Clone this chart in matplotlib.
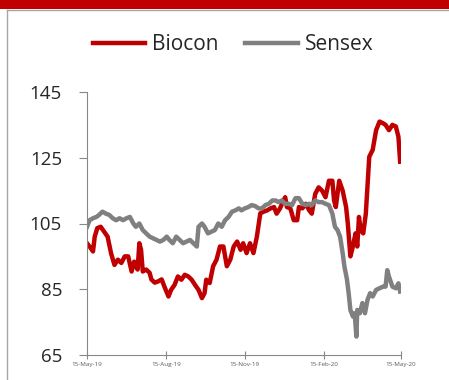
import numpy as np
import pandas as pd
import matplotlib
matplotlib.use("Agg")
import matplotlib.pyplot as plt
import matplotlib.dates as mdates
from matplotlib.patches import Rectangle
from matplotlib.lines import Line2D

plt.rcParams['font.family'] = ['Open Sans', 'DejaVu Sans']

start = pd.Timestamp("2019-05-15")
end = pd.Timestamp("2020-05-15")

# Biocon (rebased): day offset from 15-May-19 and value
biocon_days = [0, 3, 7, 9, 12, 16, 20, 24, 28, 32, 36, 40, 44, 48, 52, 55, 59, 61, 63, 65,
               69, 73, 75, 79, 83, 87, 91, 95, 98, 102, 106, 110, 114, 118, 122, 126, 130,
               134, 137, 139, 143, 147, 151, 155, 159, 163, 167, 171, 175, 179, 182, 186,
               190, 194, 198, 202, 206, 210, 214, 218, 221, 225, 229, 231, 233, 237, 241,
               245, 247, 251, 255, 259, 262, 266, 270, 274, 278, 282, 286, 288, 290, 294,
               298, 302, 304, 307, 309, 313, 315, 317, 319, 322, 325, 329, 333, 337, 341,
               345, 348, 352, 356, 360, 363, 365]
biocon = [99, 98, 96.5, 101, 103.6, 104, 102.5, 101, 96, 92.4, 94, 93, 95, 95, 90.4, 93.4,
          91, 99, 97, 90.4, 91, 90, 88, 87, 87.4, 88, 85.3, 82.8, 84.8, 86.3, 88.9, 87.9,
          89.4, 88.9, 87.9, 86.3, 84.8, 82.3, 83.8, 87.9, 86.9, 92, 94, 98, 98, 92, 94, 98,
          99.5, 97, 99, 96, 99, 96, 101, 108.1, 108.6, 109, 109.6, 110, 108, 109.6, 112,
          113, 110, 109.6, 106, 106, 110, 109.6, 111, 109, 108, 114, 116, 115, 113, 118,
          118, 112, 110, 118, 115, 110, 105, 95, 97, 102, 98, 107, 103, 102, 108, 125.3,
          127.4, 133.4, 136, 135.5, 135, 133.4, 135, 134.5, 131.4, 123.8]

# Sensex (rebased)
sensex_days = [0, 3, 7, 11, 14, 18, 22, 26, 30, 34, 38, 42, 46, 50, 54, 57, 61, 65, 69, 73,
               77, 81, 85, 89, 93, 96, 100, 104, 108, 112, 116, 120, 124, 128, 130, 134, 137,
               141, 145, 149, 153, 157, 161, 165, 169, 173, 177, 180, 184, 188, 192, 196,
               200, 204, 208, 212, 216, 220, 223, 227, 231, 235, 239, 243, 247, 251, 255,
               259, 262, 266, 270, 274, 278, 282, 286, 289, 292, 295, 298, 300, 303, 305,
               307, 310, 312, 314, 315, 318, 321, 324, 327, 330, 333, 337, 341, 345, 348,
               350, 352, 356, 360, 363, 365]
sensex = [104, 106, 106.6, 107, 107.6, 108.6, 108, 107.6, 106.6, 106, 106.6, 106, 106.6,
          107, 105, 104, 105, 103, 102, 101, 100.5, 100, 99.5, 100, 101, 100, 99, 101, 100,
          99, 99.5, 100, 99, 98, 104, 105, 104, 102, 102.5, 103, 105, 104, 106, 107, 108.6,
          109, 109.6, 109, 109.6, 110, 110.6, 110.3, 109.6, 109.6, 110.6, 111, 112, 112,
          111.5, 112, 111, 111, 110.6, 112.7, 112.7, 111, 110.6, 111, 110.6, 112, 111.5,
          111.5, 111, 110.6, 108, 104, 103, 101, 96, 92, 88, 83.8, 78.7, 76.7, 77.7, 70.6,
          78.7, 77.7, 80.8, 77.7, 81.8, 83.8, 82.8, 84.8, 85.3, 85.8, 85.8, 90.8, 88.8,
          85.8, 85.3, 86.8, 84.3]

yticks = [65, 85, 105, 125, 145]
xtick_dates = ["2019-05-15", "2019-08-15", "2019-11-15", "2020-02-15", "2020-05-15"]

fig = plt.figure(figsize=(4.49, 3.80), dpi=100)

# red header band and frame lines of the source slide
fig.patches.append(Rectangle((0, 1 - 9 / 380), 1, 9 / 380, transform=fig.transFigure,
                             facecolor="#C00000", edgecolor="none"))
fig.lines.append(Line2D([7 / 449, 1], [1 - 10 / 380, 1 - 10 / 380], transform=fig.transFigure,
                        color="#A6A6A6", lw=1))
fig.lines.append(Line2D([7 / 449, 7 / 449], [0, 1 - 10 / 380], transform=fig.transFigure,
                        color="#A6A6A6", lw=1))

ax = fig.add_axes([87 / 449, 1 - 355 / 380, (401 - 87) / 449, (355 - 92) / 380])

bx = start + pd.to_timedelta(biocon_days, unit="D")
sx = start + pd.to_timedelta(sensex_days, unit="D")
ax.plot(bx, biocon, color="#C00000", lw=3.2, label="Biocon", solid_joinstyle="round")
ax.plot(sx, sensex, color="#808080", lw=3.2, label="Sensex", solid_joinstyle="round")

ax.set_xlim(start, end)
ax.set_ylim(65, 145)
ax.set_yticks(yticks)
ax.set_yticklabels([str(v) for v in yticks], fontsize=13.5, color="#262626")
ax.set_xticks(pd.to_datetime(xtick_dates))
ax.xaxis.set_major_formatter(mdates.DateFormatter("%d-%b-%y"))
for lab in ax.get_xticklabels():
    lab.set_fontsize(4.5)
    lab.set_color("#595959")

for s in ["top", "right"]:
    ax.spines[s].set_visible(False)
for s in ["left", "bottom"]:
    ax.spines[s].set_color("#888888")
ax.tick_params(axis="y", direction="out", length=6, color="#888888", pad=12)
ax.tick_params(axis="x", direction="inout", length=6, color="#888888", pad=2)

fig.legend(loc="center", bbox_to_anchor=(233 / 449, 1 - 45 / 380), ncol=2, frameon=False,
           fontsize=15, handlelength=2.5, handletextpad=0.35, columnspacing=1.3,
           labelcolor="#262626")

fig.savefig("out.png", dpi=100)
